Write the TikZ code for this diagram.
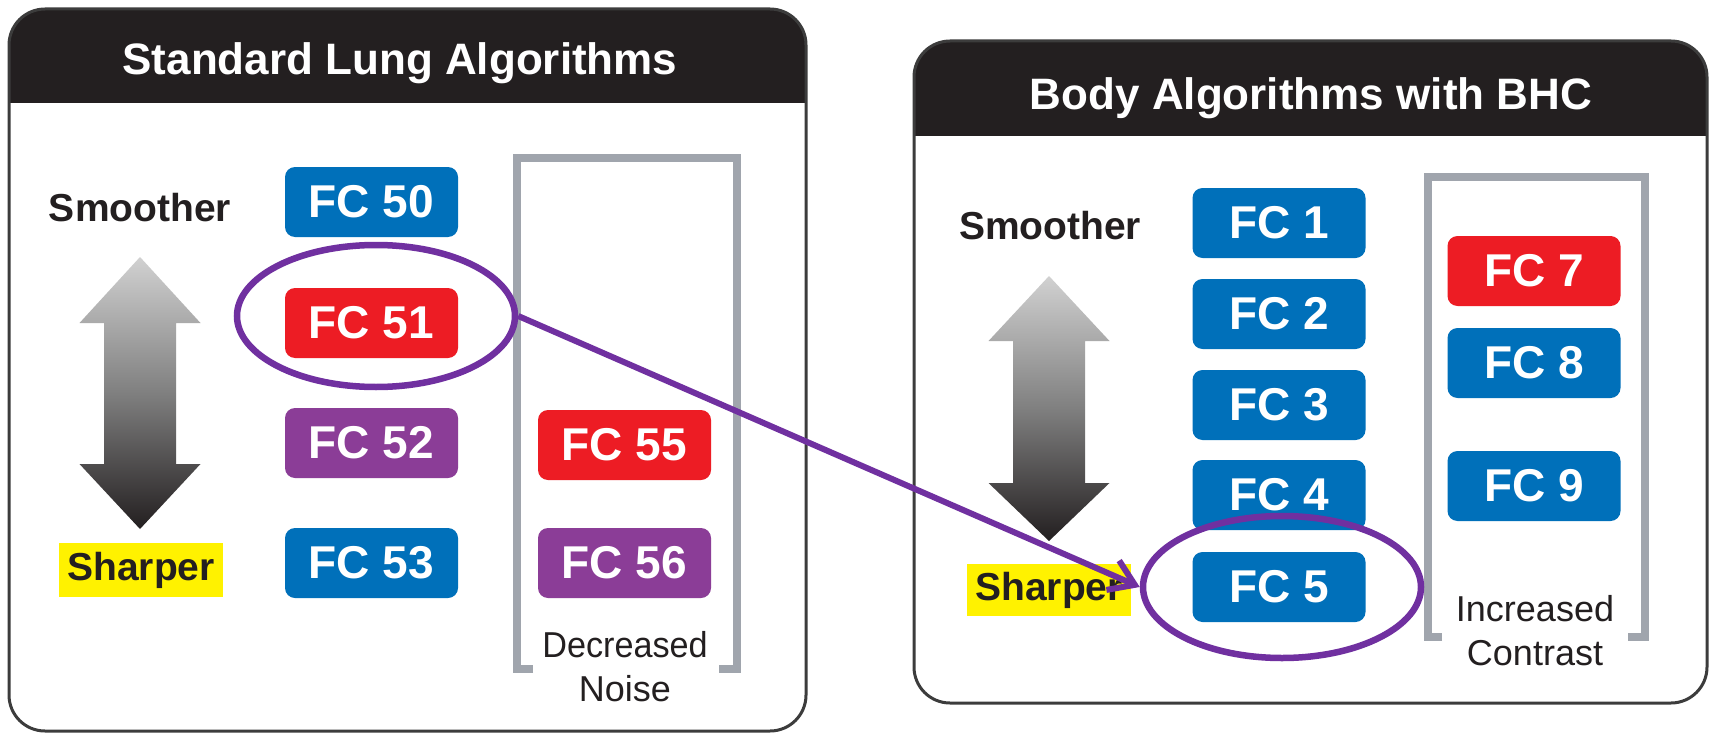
\documentclass[tikz,border=0pt]{standalone}
\usepackage{fontspec}
\setmainfont{Liberation Sans}
\usetikzlibrary{shapes.geometric,arrows.meta}
\definecolor{fcblue}{HTML}{0070BA}
\definecolor{fcred}{HTML}{ED1C24}
\definecolor{fcpurple}{HTML}{8B3D97}
\definecolor{ringpurple}{HTML}{7030A0}
\definecolor{hiyellow}{HTML}{FFF200}
\definecolor{inkdark}{HTML}{231F20}
\definecolor{brgrey}{HTML}{A0A5AD}
\definecolor{panelline}{HTML}{3C3C3C}
\tikzset{
  fcbox/.style={rounded corners=10pt, minimum width=173pt, minimum height=70pt, inner sep=0pt,
    text=white, font=\fontsize{46}{46}\selectfont\bfseries},
  panel/.style={draw=panelline, line width=3pt, rounded corners=36pt},
  titletext/.style={text=white, font=\fontsize{44}{44}\selectfont\bfseries, anchor=base, inner sep=0pt},
  sidelabel/.style={text=inkdark, font=\fontsize{39}{39}\selectfont\bfseries, inner sep=0pt},
  hibox/.style={fill=hiyellow, minimum width=164pt, minimum height=54pt, inner sep=0pt,
    text=inkdark, font=\fontsize{39}{39}\selectfont\bfseries},
  brackettext/.style={text=inkdark, font=\fontsize{36}{36}\selectfont, anchor=base, inner sep=0pt},
  bracketline/.style={draw=brgrey, line width=8pt, miter limit=10},
  ring/.style={ellipse, draw=ringpurple, line width=6.5pt, minimum width=278pt, minimum height=142pt, inner sep=0pt},
  gradarrow/.style={top color=black!18, bottom color=inkdark, middle color=black!50}
}
\begin{document}
\begin{tikzpicture}[x=1pt,y=-1pt]
\useasboundingbox (0,0) rectangle (1713,733);
\fill[white] (0,0) rectangle (1713,733);

% ---------- left panel ----------
\begin{scope}
  \clip[rounded corners=36pt] (9,9) rectangle (806,731);
  \fill[inkdark] (9,9) rectangle (806,103);
\end{scope}
\draw[panel] (9,9) rectangle (806,731);
\node[titletext] (t1) at (400,75) {Standard Lung Algorithms};

\node[sidelabel] (smooth1) at (140,208) {Smoother};
\node[hibox] (sharp1) at (141,570) {Sharper};
\shade[gradarrow] (140,257) -- (200.5,323) -- (176,323) -- (176,464) -- (200.5,464) -- (140,529)
  -- (79.5,464) -- (104,464) -- (104,323) -- (79.5,323) -- cycle;

\node[fcbox, fill=fcblue] (fc50) at (371.5,202) {FC 50};
\node[fcbox, fill=fcred] (fc51) at (371.5,323) {FC 51};
\node[fcbox, fill=fcpurple] (fc52) at (371.5,443) {FC 52};
\node[fcbox, fill=fcblue] (fc53) at (371.5,563) {FC 53};
\node[fcbox, fill=fcred] (fc55) at (624.5,445) {FC 55};
\node[fcbox, fill=fcpurple] (fc56) at (624.5,563) {FC 56};

\draw[bracketline] (533,669) -- (517,669) -- (517,158) -- (737,158) -- (737,669) -- (719,669);
\node[brackettext] (dec) at (625,657) {\scalebox{0.95}[1]{Decreased}};
\node[brackettext] (noise) at (625,701) {Noise};

% ---------- right panel ----------
\begin{scope}
  \clip[rounded corners=36pt] (914,41) rectangle (1707,703);
  \fill[inkdark] (914,41) rectangle (1707,136);
\end{scope}
\draw[panel] (914,41) rectangle (1707,703);
\node[titletext] (t2) at (1311,110) {Body Algorithms with BHC};

\node[sidelabel] (smooth2) at (1050,226) {Smoother};
\node[hibox, minimum height=52pt] (sharp2) at (1049,590) {Sharper};
\shade[gradarrow] (1049,276) -- (1109.5,341) -- (1085,341) -- (1085,483) -- (1109.5,483) -- (1049,541)
  -- (988.5,483) -- (1013,483) -- (1013,341) -- (988.5,341) -- cycle;

\node[fcbox, fill=fcblue] (fc1) at (1279,223) {FC 1};
\node[fcbox, fill=fcblue] (fc2) at (1279,314) {FC 2};
\node[fcbox, fill=fcblue] (fc3) at (1279,405) {FC 3};
\node[fcbox, fill=fcblue] (fc4) at (1279,495) {FC 4};
\node[fcbox, fill=fcblue] (fc5) at (1279,587) {FC 5};
\node[fcbox, fill=fcred] (fc7) at (1534,271) {FC 7};
\node[fcbox, fill=fcblue] (fc8) at (1534,363) {FC 8};
\node[fcbox, fill=fcblue] (fc9) at (1534,486) {FC 9};

\draw[bracketline] (1442,637) -- (1428,637) -- (1428,177) -- (1645,177) -- (1645,637) -- (1628,637);
\node[brackettext] (inc) at (1535,621) {Increased};
\node[brackettext] (con) at (1535,665) {Contrast};

% ---------- rings and connector ----------
\node[ring] (ring1) at (376,316) {};
\node[ring] (ring2) at (1282,587) {};
\draw[ringpurple, line width=6pt, -{Straight Barb[length=24pt,width=32pt]}] (ring1.east) -- (ring2.west);
\end{tikzpicture}
\end{document}
